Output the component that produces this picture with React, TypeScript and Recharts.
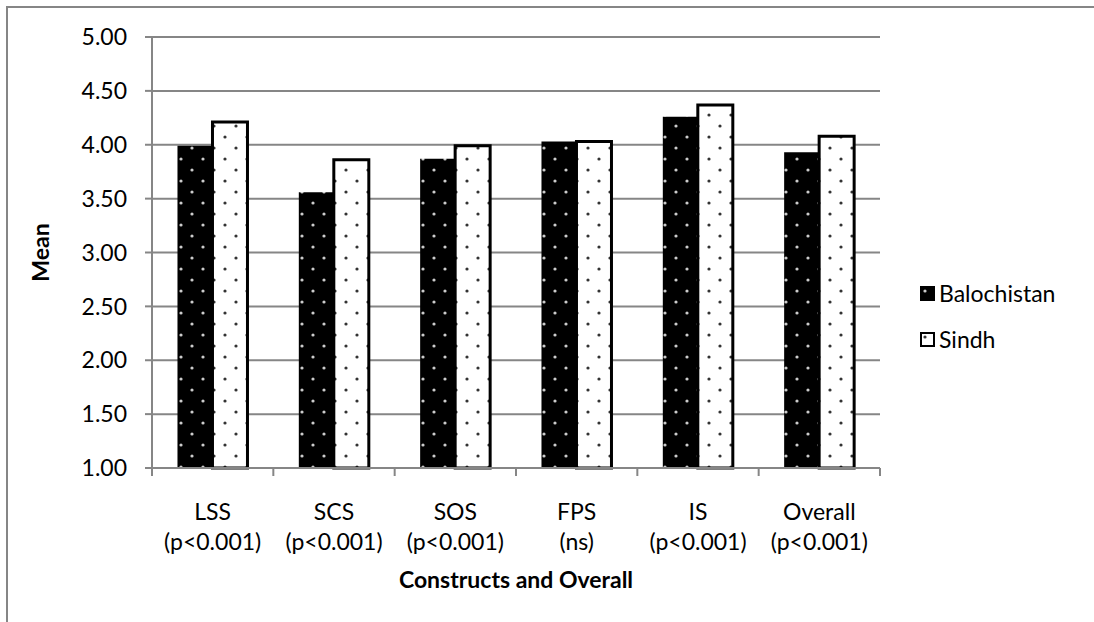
import React from 'react'
import { Bar, BarChart, CartesianGrid, XAxis, YAxis } from 'recharts'

const CONSTRUCTS = ['LSS', 'SCS', 'SOS', 'FPS', 'IS', 'Overall']
const SIGNIFICANCE = ['(p<0.001)', '(p<0.001)', '(p<0.001)', '(ns)', '(p<0.001)', '(p<0.001)']
const BALOCHISTAN = [3.99, 3.56, 3.87, 4.03, 4.26, 3.93]
const SINDH = [4.21, 3.86, 3.99, 4.03, 4.37, 4.08]
const Y_TICKS = [1, 1.5, 2, 2.5, 3, 3.5, 4, 4.5, 5]

const DATA = CONSTRUCTS.map((name, i) => ({
  name,
  sig: SIGNIFICANCE[i],
  Balochistan: BALOCHISTAN[i],
  Sindh: SINDH[i],
}))

const W = 1094
const H = 622
const MARGIN = { top: 37, right: 214, bottom: 54, left: 92 }
const PLOT_W = W - MARGIN.left - 60 - MARGIN.right
const BAND = PLOT_W / CONSTRUCTS.length
const FONT = 'Lato, "Noto Sans", sans-serif'
const FS = 23
const GRID = '#868686'

function CategoryTick(props: any) {
  const { x, y, payload, index } = props
  const sig = DATA.find((d) => d.name === payload.value)?.sig
  const top = y - 8
  return (
    <g>
      <line x1={x - BAND / 2} x2={x - BAND / 2} y1={top} y2={top + 8} stroke={GRID} strokeWidth={2} />
      {index === CONSTRUCTS.length - 1 && (
        <line x1={x + BAND / 2} x2={x + BAND / 2} y1={top} y2={top + 8} stroke={GRID} strokeWidth={2} />
      )}
      <text x={x} y={top + 52} textAnchor="middle" fontSize={FS} fontFamily={FONT} fill="#000">
        {payload.value}
      </text>
      <text x={x} y={top + 82} textAnchor="middle" fontSize={FS} fontFamily={FONT} fill="#000">
        {sig}
      </text>
    </g>
  )
}

function ChartLegend() {
  const items = [
    { label: 'Balochistan', fill: 'url(#dotsDark)' },
    { label: 'Sindh', fill: 'url(#dotsLight)' },
  ]
  return (
    <div style={{ position: 'absolute', left: 920, top: 270, fontFamily: FONT, fontSize: FS, color: '#000' }}>
      {items.map((it) => (
        <div key={it.label} style={{ display: 'flex', alignItems: 'center', height: 46 }}>
          <svg width={15} height={15} style={{ marginRight: 4 }}>
            <rect x={1} y={1} width={13} height={13} fill={it.fill} stroke="#000" strokeWidth={2} />
          </svg>
          {it.label}
        </div>
      ))}
    </div>
  )
}

export default function App() {
  return (
    <div style={{ position: 'absolute', left: 0, top: 0, width: W, height: H, overflow: 'hidden', background: '#fff' }}>
      <svg width={0} height={0} style={{ position: 'absolute' }}>
        <defs>
          <pattern id="dotsDark" width={22} height={22} patternUnits="userSpaceOnUse">
            <rect width={22} height={22} fill="#000" />
            <circle cx={5} cy={5} r={1.6} fill="#ccc" />
            <circle cx={16} cy={16} r={1.6} fill="#ccc" />
          </pattern>
          <pattern id="dotsLight" width={22} height={22} patternUnits="userSpaceOnUse">
            <rect width={22} height={22} fill="#fff" />
            <circle cx={5} cy={5} r={1.6} fill="#333" />
            <circle cx={16} cy={16} r={1.6} fill="#333" />
          </pattern>
        </defs>
      </svg>
      <div
        style={{
          position: 'absolute',
          left: 6,
          top: 6,
          width: W + 20,
          height: H + 20,
          border: `2px solid ${GRID}`,
          boxSizing: 'border-box',
        }}
      />
      <div style={{ position: 'absolute', left: 0, top: 0 }}>
        <BarChart width={W} height={H} data={DATA} margin={MARGIN} barGap={0} barCategoryGap="21%">
          <CartesianGrid vertical={false} stroke={GRID} strokeWidth={2} />
          <XAxis
            dataKey="name"
            height={100}
            stroke={GRID}
            strokeWidth={2}
            tickLine={false}
            interval={0}
            tick={<CategoryTick />}
            label={{
              content: (p: any) => (
                <text
                  x={p.viewBox.x + p.viewBox.width / 2}
                  y={p.viewBox.y + 120}
                  textAnchor="middle"
                  fontSize={FS}
                  fontWeight="bold"
                  fontFamily={FONT}
                  fill="#000"
                >
                  Constructs and Overall
                </text>
              ),
            }}
          />
          <YAxis
            domain={[1, 5]}
            ticks={Y_TICKS}
            width={60}
            stroke={GRID}
            strokeWidth={2}
            tickSize={7}
            tickMargin={18}
            tickFormatter={(v: number) => v.toFixed(2)}
            tick={{ fill: '#000', fontSize: FS, fontFamily: FONT }}
            label={{
              content: (p: any) => {
                const cx = 40
                const cy = p.viewBox.y + p.viewBox.height / 2
                return (
                  <text
                    x={cx}
                    y={cy}
                    transform={`rotate(-90 ${cx} ${cy})`}
                    textAnchor="middle"
                    dominantBaseline="central"
                    fontSize={FS}
                    fontWeight="bold"
                    fontFamily={FONT}
                    fill="#000"
                  >
                    Mean
                  </text>
                )
              },
            }}
          />
          <Bar dataKey="Balochistan" fill="url(#dotsDark)" isAnimationActive={false} />
          <Bar dataKey="Sindh" fill="url(#dotsLight)" stroke="#000" strokeWidth={3} isAnimationActive={false} />
        </BarChart>
      </div>
      <ChartLegend />
    </div>
  )
}
